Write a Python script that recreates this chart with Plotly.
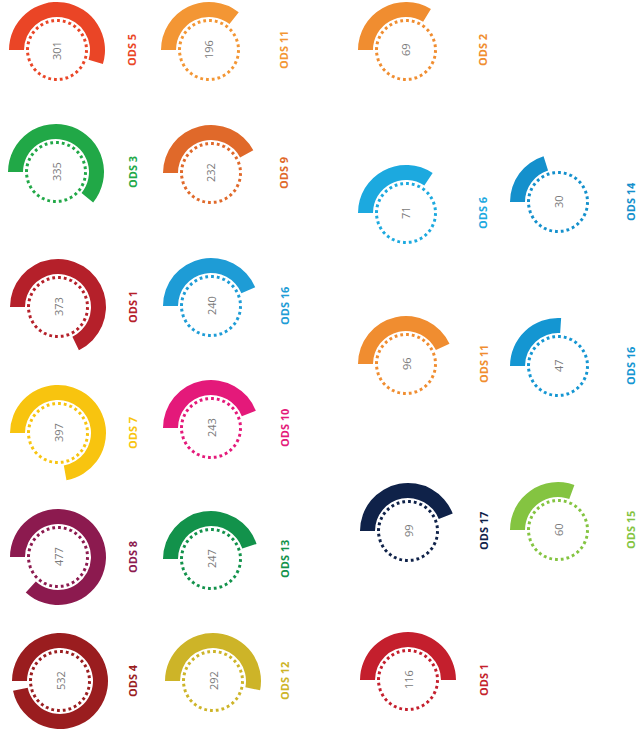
import numpy as np
import plotly.graph_objects as go

# ---------------- data ----------------
# left block (large counts)
left_labels = ["ODS 5", "ODS 3", "ODS 1", "ODS 7", "ODS 8", "ODS 4",
               "ODS 11", "ODS 9", "ODS 16", "ODS 10", "ODS 13", "ODS 12"]
left_values = [301, 335, 373, 397, 477, 532,
               196, 232, 240, 243, 247, 292]
left_colors = ["#EA4526", "#21A847", "#B5202A", "#F8C40F", "#8C1A4F", "#9A1D1F",
               "#F39634", "#E0692A", "#1E9CD6", "#E4197A", "#12924B", "#CDB428"]

# right block (small counts)
right_labels = ["ODS 2", "ODS 6", "ODS 11", "ODS 17", "ODS 1",
                "ODS 14", "ODS 16", "ODS 15"]
right_values = [69, 71, 96, 99, 116,
                30, 47, 60]
right_colors = ["#F08D30", "#1CA9DF", "#F08D30", "#0F2249", "#C41F2D",
                "#1490CC", "#1496D2", "#84C441"]

# value domains mapped to a full turn, per block
left_domain = (0, 550)
right_domain = (-28, 260)

# ---------------- layout (pixel centres) ----------------
W, H = 638, 735
left_pos = [(57, 50), (56, 172), (58, 307), (58, 433), (58, 557), (60, 681),
            (209, 50), (211, 173), (211, 306), (211, 428), (211, 559), (213, 681)]
left_label_x = [132] * 6 + [284] * 6
right_pos = [(406, 50), (406, 213), (406, 364), (408, 531), (408, 680),
             (558, 202), (558, 366), (558, 530)]
right_label_x = [483] * 5 + [630] * 3

R = 50           # polar radius in px (radial range 0..R)
ARC_IN, ARC_W = 33, 15
DOT_R = 29.5

fig = go.Figure()
annotations = []
n = 0


def add_gauge(label, value, color, domain, pos, lx):
    global n
    n += 1
    name = "polar" if n == 1 else f"polar{n}"
    cx, cy = pos
    sweep = (value - domain[0]) / (domain[1] - domain[0]) * 360.0
    fig.add_trace(go.Barpolar(
        r=[ARC_W], base=[ARC_IN], theta=[sweep / 2], width=[sweep],
        marker=dict(color=color, line=dict(width=0)),
        subplot=name, showlegend=False, hoverinfo="skip"))
    th = np.linspace(0, 360, 181)
    fig.add_trace(go.Scatterpolar(
        r=[DOT_R] * len(th), theta=th, mode="lines",
        line=dict(color=color, width=3, dash="2.8px,3px"),
        subplot=name, showlegend=False, hoverinfo="skip"))
    fig.layout[name] = dict(
        domain=dict(x=[(cx - R) / W, (cx + R) / W],
                    y=[1 - (cy + R) / H, 1 - (cy - R) / H]),
        bgcolor="rgba(0,0,0,0)",
        radialaxis=dict(range=[0, R], visible=False),
        angularaxis=dict(rotation=180, direction="clockwise", visible=False),
    )
    annotations.append(dict(
        x=cx / W, y=1 - cy / H, xref="paper", yref="paper",
        text=str(value), showarrow=False, textangle=-90,
        font=dict(family="Open Sans", size=11, color="#7a7a7a"),
        xanchor="center", yanchor="middle"))
    annotations.append(dict(
        x=lx / W, y=1 - cy / H, xref="paper", yref="paper",
        text=f"<b>{label}</b>", showarrow=False, textangle=-90,
        font=dict(family="Open Sans", size=11, color=color),
        xanchor="center", yanchor="middle"))


for lab, val, col, pos, lx in zip(left_labels, left_values, left_colors, left_pos, left_label_x):
    add_gauge(lab, val, col, left_domain, pos, lx)
for lab, val, col, pos, lx in zip(right_labels, right_values, right_colors, right_pos, right_label_x):
    add_gauge(lab, val, col, right_domain, pos, lx)

fig.update_layout(
    width=W, height=H,
    margin=dict(l=0, r=0, t=0, b=0),
    paper_bgcolor="white", plot_bgcolor="white",
    annotations=annotations,
    showlegend=False,
)

fig.write_html("out.html",
               config={"displayModeBar": False, "staticPlot": True},
               post_script="document.body.style.margin='0px';document.body.style.overflow='hidden';")
